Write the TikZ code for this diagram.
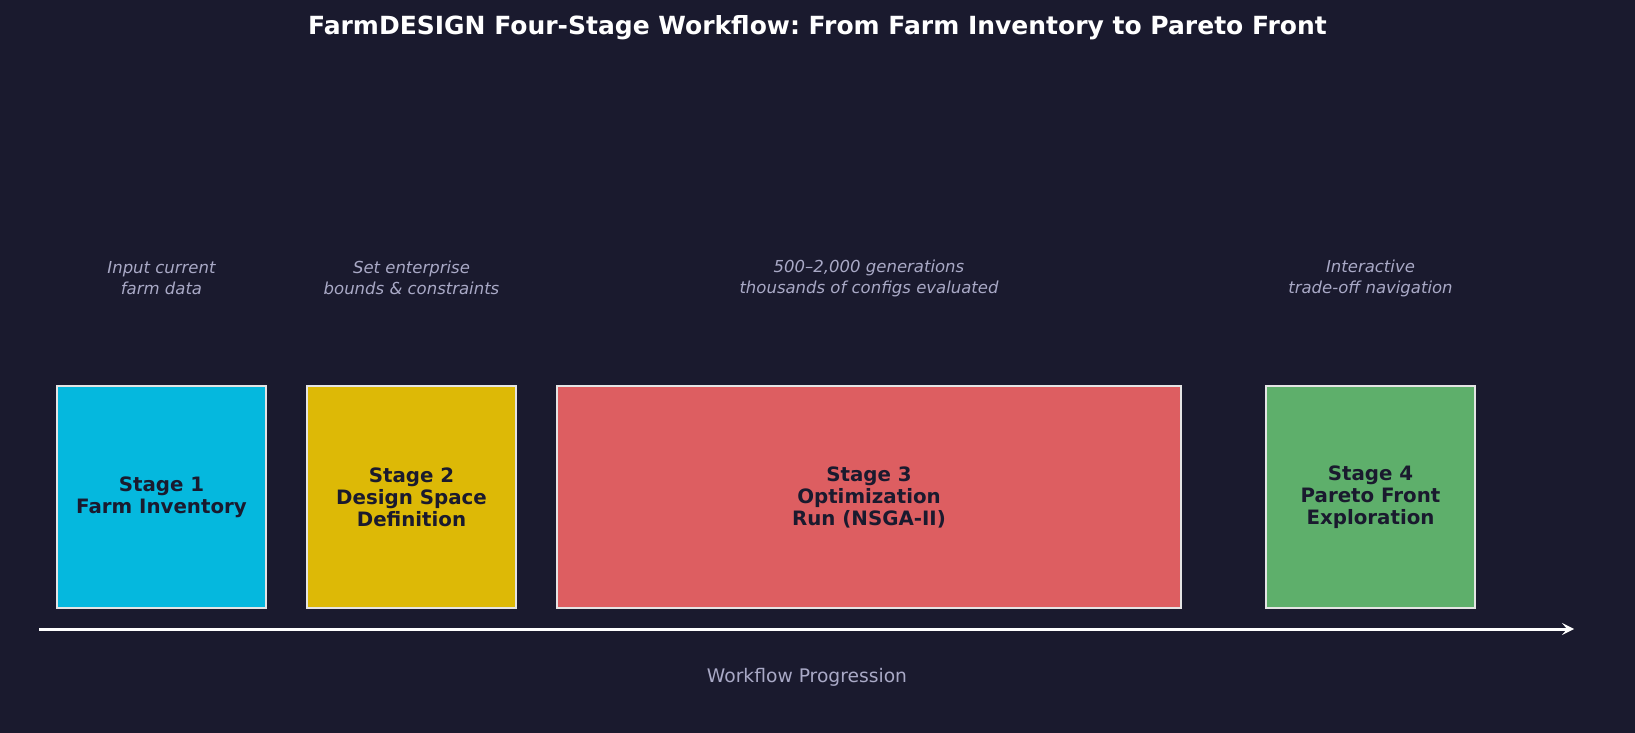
\documentclass[tikz,border=0pt]{standalone}
\usepackage{fontspec}
\setmainfont{DejaVu Sans}
\frenchspacing
\usetikzlibrary{arrows.meta}
\definecolor{bg}{HTML}{1A1A2E}
\definecolor{cyanbox}{HTML}{05B8DE}
\definecolor{yelbox}{HTML}{DDB906}
\definecolor{redbox}{HTML}{DD5E61}
\definecolor{grnbox}{HTML}{5EAF6B}
\definecolor{edge}{HTML}{E4E4E4}
\definecolor{note}{HTML}{A9A9C6}
\tikzset{
  stagebox/.style={draw=edge, line width=2.2pt, inner sep=0pt, font=\fontsize{19.8}{22}\selectfont\bfseries, text=bg, align=center},
  notetext/.style={font=\fontsize{16.5}{21}\selectfont\itshape, text=note, align=center},
}
\begin{document}
\begin{tikzpicture}[x=1pt,y=-1pt]
\fill[bg] (0,0) rectangle (1635,733);
\useasboundingbox (0,0) rectangle (1635,733);
\node[font=\fontsize{25}{30}\selectfont\bfseries, text=white] (title) at (817.5,27.5) {FarmDESIGN Four-Stage Workflow: From Farm Inventory to Pareto Front};
\node[stagebox, fill=cyanbox, minimum width=209pt, minimum height=222pt] (s1) at (161.5,497) {Stage 1\\Farm Inventory};
\node[stagebox, fill=yelbox, minimum width=209pt, minimum height=222pt] (s2) at (411.5,497) {Stage 2\\Design Space\\Definition};
\node[stagebox, fill=redbox, minimum width=624pt, minimum height=222pt] (s3) at (869,497) {Stage 3\\Optimization\\Run (NSGA-II)};
\node[stagebox, fill=grnbox, minimum width=209pt, minimum height=222pt] (s4) at (1370.5,497) {Stage 4\\Pareto Front\\Exploration};
\node[notetext] (n1) at (161.5,278) {Input current\\farm data};
\node[notetext] (n2) at (411.5,278) {Set enterprise\\bounds \& constraints};
\node[notetext] (n3) at (869,278) {500–2,000 generations\\thousands of configs evaluated};
\node[notetext] (n4) at (1370.5,278) {Interactive\\trade-off navigation};
\coordinate (a0) at (39,629);
\coordinate (a1) at (1574,629);
\draw[white, line width=3pt, -{Stealth[length=12pt,width=12pt,inset=5pt]}] (a0) -- (a1);
\node[font=\fontsize{18.7}{22}\selectfont, text=note] (wp) at (807,677) {Workflow Progression};
\end{tikzpicture}
\end{document}
